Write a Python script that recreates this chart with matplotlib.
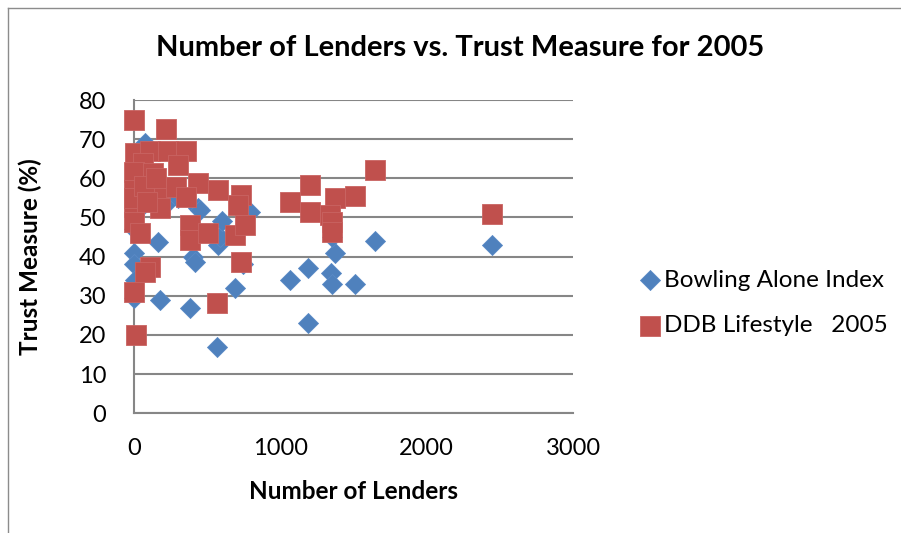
import matplotlib
matplotlib.use("Agg")
import matplotlib.pyplot as plt
from matplotlib.lines import Line2D

# =====================
# DATA
# =====================
bowling_x = [73, 27, 0, 100, 246, 437, 451, 793, 576, 588, 164, 0, 0, 405, 415,
             0, 175, 380, 692, 565, 747, 1647, 1374, 1344, 1350, 1510, 1190,
             1066, 1190, 1350, 2444, 10, 200, 30, 300, 600]
bowling_y = [69, 52, 47, 57, 54.5, 52.3, 52, 51.5, 43, 45, 43.8, 41, 38, 40, 38.7,
             29.5, 29, 26.8, 32, 17, 38, 44, 41, 35.7, 33, 33, 37,
             34, 23, 45, 43, 34, 56, 60, 55, 49]

ddb_x = [0, 220, 5, 107, 232, 355, 300, 62, 0, 130, 0, 164, 290, 437, 574, 731,
         357, 175, 0, 0, 39, 380, 380, 712, 508, 690, 758, 733, 107, 73, 0, 569,
         16, 1647, 1203, 1066, 1203, 1374, 1510, 1340, 1350, 1350, 2444, 0, 70,
         150, 90]
ddb_y = [75, 72.5, 66.5, 67, 67, 67, 63.5, 63.8, 61.5, 61.3, 57, 55.7, 57.8, 58.7,
         57, 55.7, 55.3, 52.3, 52.7, 48.9, 46, 48.1, 44.2, 53.2, 46, 45.5, 48.1,
         38.7, 37.4, 36.2, 31, 28.1, 20, 62.1, 58.3, 54, 51.5, 54.9, 55.5, 50.6,
         48.9, 46.4, 50.9, 55, 58, 60, 54]

x_ticks = [0, 1000, 2000, 3000]
y_ticks = [0, 10, 20, 30, 40, 50, 60, 70, 80]

BLUE = "#4F81BD"
RED = "#C0504D"
GRID = "#868686"

plt.rcParams["font.family"] = ["Lato", "DejaVu Sans"]

fig = plt.figure(figsize=(9.01, 5.33), dpi=100)
ax = fig.add_axes([134 / 901, (533 - 413.3) / 533, (573 - 134) / 901, (413.3 - 100) / 533])

ax.scatter(bowling_x, bowling_y, marker="D", s=10.2 ** 2, color=BLUE,
           edgecolors="#5a8ac6", linewidths=0.6, label="Bowling Alone Index", zorder=3)
ax.scatter(ddb_x, ddb_y, marker="s", s=14.4 ** 2, color=RED,
           edgecolors="#c96462", linewidths=0.6, label="DDB Lifestyle   2005", zorder=4)

ax.set_xlim(0, 3000)
ax.set_ylim(0, 80)
ax.set_xticks(x_ticks)
ax.set_yticks(y_ticks)
ax.tick_params(length=0, labelsize=17)
ax.tick_params(axis="x", pad=18)
ax.tick_params(axis="y", pad=20)

ax.yaxis.grid(True, color=GRID, linewidth=1.5)
ax.set_axisbelow(True)
for s in ["top", "right"]:
    ax.spines[s].set_visible(False)
for s in ["left", "bottom"]:
    ax.spines[s].set_color(GRID)
    ax.spines[s].set_linewidth(1.5)
for m in ax.collections:
    m.set_clip_on(False)

ax.set_xlabel("Number of Lenders", fontsize=17.5, fontweight="bold")
ax.set_ylabel("Trust Measure (%)", fontsize=17.5, fontweight="bold")
ax.xaxis.set_label_coords(0.499, -0.213)
ax.yaxis.set_label_coords(-0.209, 0.5)
fig.text(460 / 901, 1 - 48 / 533, "Number of Lenders vs. Trust Measure for 2005",
         ha="center", va="center", fontsize=21, fontweight="bold")

leg = ax.legend(loc="center left", bbox_to_anchor=(626 / 901, 1 - 303 / 533),
                bbox_transform=fig.transFigure, frameon=False, fontsize=17.5,
                handletextpad=0.05, labelspacing=1.0, borderpad=0, handlelength=1.0)

# outer chart frame (top and left visible)
fig.add_artist(Line2D([8 / 901, 1.0], [1 - 8 / 533, 1 - 8 / 533], color="#8c8c8c", lw=1))
fig.add_artist(Line2D([8 / 901, 8 / 901], [0, 1 - 8 / 533], color="#8c8c8c", lw=1))

fig.savefig("out.png", dpi=100)
